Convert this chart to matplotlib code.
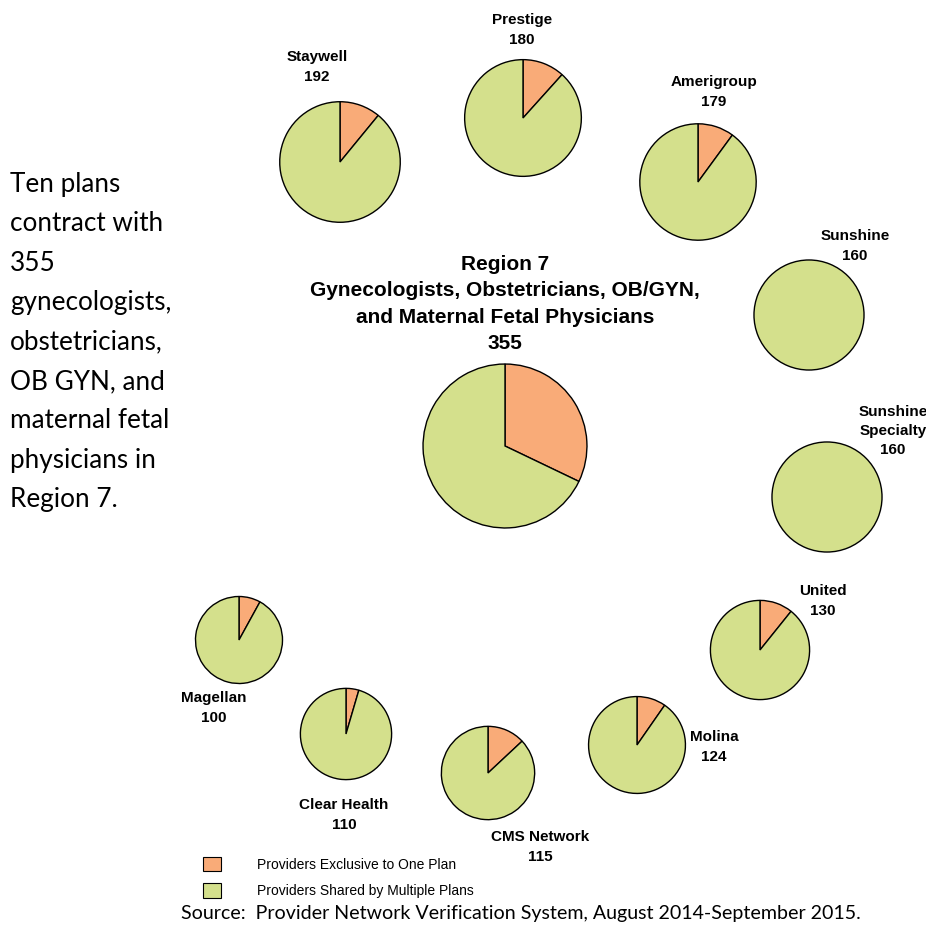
import matplotlib.pyplot as plt
from matplotlib.patches import Patch

# plan data: total providers and providers exclusive to that plan
plans = ["Staywell", "Prestige", "Amerigroup", "Sunshine", "Sunshine\nSpecialty",
         "United", "Molina", "CMS Network", "Clear Health", "Magellan"]
totals = [192, 180, 179, 160, 160, 130, 124, 115, 110, 100]
exclusive = [21, 21, 18, 0, 0, 14, 12, 15, 5, 8]

region_total = 355
region_exclusive = 114

# layout (pixel coords, y down)
pie_xy = [(340, 162), (523, 118), (698, 182), (809, 315), (827, 497),
          (760, 650), (637, 745), (488, 773), (346, 734), (239, 640)]
label_xy = [(317, 67), (522, 30), (714, 92), (855, 246), (893, 431),
            (823, 601), (714, 747), (540, 847), (344, 815), (214, 708)]
region_xy = (505, 446)
R_SCALE = 4.35  # radius ~ sqrt(total)

ORANGE = "#F9AB78"
GREEN = "#D4E08C"

fig = plt.figure(figsize=(9.26, 9.26), dpi=100)
ax = fig.add_axes([0, 0, 1, 1])


def draw_pie(total, excl, xy):
    vals = [excl, total - excl]
    cols = [ORANGE, GREEN]
    keep = [(v, c) for v, c in zip(vals, cols) if v > 0]
    ax.pie([v for v, _ in keep], colors=[c for _, c in keep], center=xy,
           radius=R_SCALE * total ** 0.5, startangle=-90, counterclock=True,
           wedgeprops=dict(edgecolor="black", linewidth=1.0))


for t, e, xy in zip(totals, exclusive, pie_xy):
    draw_pie(t, e, xy)
draw_pie(region_total, region_exclusive, region_xy)

for name, t, (x, y) in zip(plans, totals, label_xy):
    ax.text(x, y, f"{name}\n{t}", ha="center", va="center", fontsize=11,
            fontweight="bold", family="Liberation Sans", linespacing=1.5)

ax.text(505, 304, "Region 7\nGynecologists, Obstetricians, OB/GYN,\n"
        "and Maternal Fetal Physicians\n" + str(region_total),
        ha="center", va="center", fontsize=15, fontweight="bold",
        family="Liberation Sans", linespacing=1.5)

ax.text(10, 342, "Ten plans\ncontract with\n355\ngynecologists,\nobstetricians,\n"
        "OB GYN, and\nmaternal fetal\nphysicians in\nRegion 7.",
        ha="left", va="center", fontsize=18.8, family="Lato", linespacing=1.72)

ax.text(181, 913, "Source:  Provider Network Verification System, August 2014-September 2015.",
        ha="left", va="center", fontsize=14.1, family="Lato")

handles = [Patch(facecolor=ORANGE, edgecolor="black", linewidth=0.8),
           Patch(facecolor=GREEN, edgecolor="black", linewidth=0.8)]
ax.legend(handles, ["Providers Exclusive to One Plan", "Providers Shared by Multiple Plans"],
          loc="upper left", bbox_to_anchor=(203 / 926, 1 - 857 / 926),
          bbox_transform=fig.transFigure, frameon=False, borderpad=0,
          borderaxespad=0, handlelength=1.3, handleheight=1.22,
          handletextpad=2.6, labelspacing=0.82,
          prop=dict(family="Liberation Sans", size=10))

ax.set_xlim(0, 926)
ax.set_ylim(926, 0)
ax.set_aspect("equal")
ax.axis("off")

fig.savefig("out.png", dpi=100, facecolor="white")
